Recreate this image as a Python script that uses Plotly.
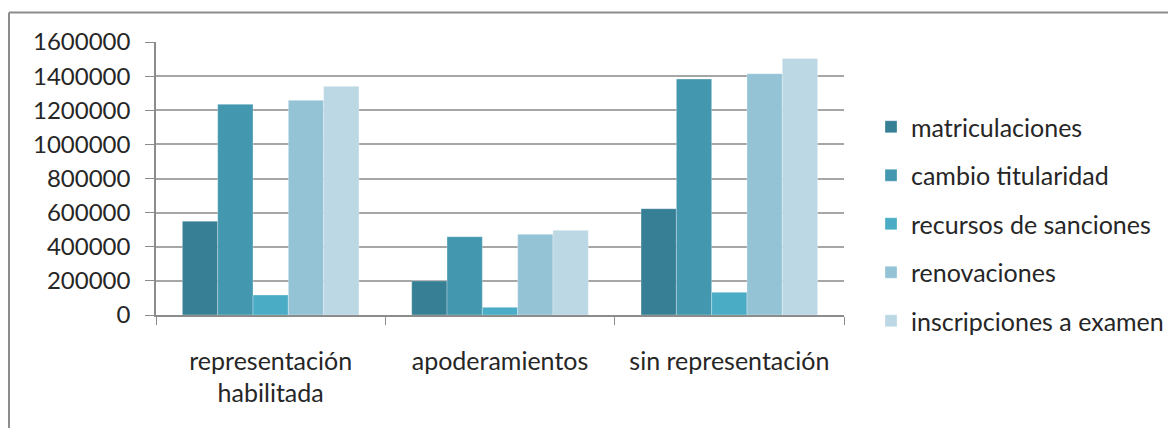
import plotly.graph_objects as go

categories = ["representación<br>habilitada", "apoderamientos", "sin representación"]
series_names = ["matriculaciones", "cambio titularidad", "recursos de sanciones",
                "renovaciones", "inscripciones a examen"]
matriculaciones = [550000, 200000, 623000]
cambio_titularidad = [1235000, 459000, 1383000]
recursos_de_sanciones = [117000, 45000, 133000]
renovaciones = [1258000, 473000, 1414000]
inscripciones_a_examen = [1340000, 496000, 1504000]
y_ticks = [0, 200000, 400000, 600000, 800000, 1000000, 1200000, 1400000, 1600000]

series_values = [matriculaciones, cambio_titularidad, recursos_de_sanciones,
                 renovaciones, inscripciones_a_examen]
colors = ["#377F95", "#4397AF", "#4BACC6", "#93C3D5", "#BBD8E4"]

FONT = "Lato"
fig = go.Figure()
for name, vals, col in zip(series_names, series_values, colors):
    fig.add_trace(go.Bar(
        name=name, x=categories, y=vals, marker_color=col,
        marker_line_color="rgba(255,255,255,0.5)", marker_line_width=0.6,
        legendgroup=name,
    ))

# page body has an 8px margin, so figure coordinates are page - 8
O = 8
W, H = 1168, 420
L, T = 156 - O, 42 - O
pw, ph = 688, 273
R = W - L - pw
B = H - T - ph

def px_x(px):
    return (px - O - L) / pw

def px_y(py):
    return (T + ph - (py - O)) / ph

fig.update_layout(
    width=W, height=H,
    margin=dict(l=L, r=R, t=T, b=B, autoexpand=False),
    paper_bgcolor="white", plot_bgcolor="white",
    barmode="group", bargap=0.23, bargroupgap=0,
    font=dict(family=FONT, size=24, color="#262626"),
    legend=dict(
        x=px_x(871), y=px_y(104), xanchor="left", yanchor="top",
        font=dict(family=FONT, size=25, color="#262626"),
        tracegroupgap=13, itemwidth=30, bgcolor="rgba(0,0,0,0)",
    ),
    showlegend=True,
    xaxis=dict(
        tickson="boundaries", ticks="outside", ticklen=8, tickcolor="#8C8C8C",
        showline=True, linecolor="#8C8C8C", linewidth=1.5, showgrid=False,
        ticklabelstandoff=23, tickfont=dict(family=FONT, size=25, color="#262626"),
    ),
    yaxis=dict(
        range=[0, 1600000], tickvals=y_ticks, ticktext=[str(v) for v in y_ticks],
        ticks="outside", ticklen=9, tickcolor="#8C8C8C",
        showline=True, linecolor="#8C8C8C", linewidth=1.5,
        showgrid=True, gridcolor="#A6A6A6", gridwidth=1.5, zeroline=False,
        ticklabelstandoff=10, tickfont=dict(family=FONT, size=24, color="#262626"),
    ),
    shapes=[
        dict(type="line", xref="paper", yref="paper",
             x0=px_x(9), x1=px_x(1176), y0=px_y(12.5), y1=px_y(12.5),
             line=dict(color="#8C8C8C", width=2)),
        dict(type="line", xref="paper", yref="paper",
             x0=px_x(9), x1=px_x(9), y0=px_y(12.5), y1=px_y(428),
             line=dict(color="#8C8C8C", width=2)),
    ],
)
fig.write_html("out.html")
